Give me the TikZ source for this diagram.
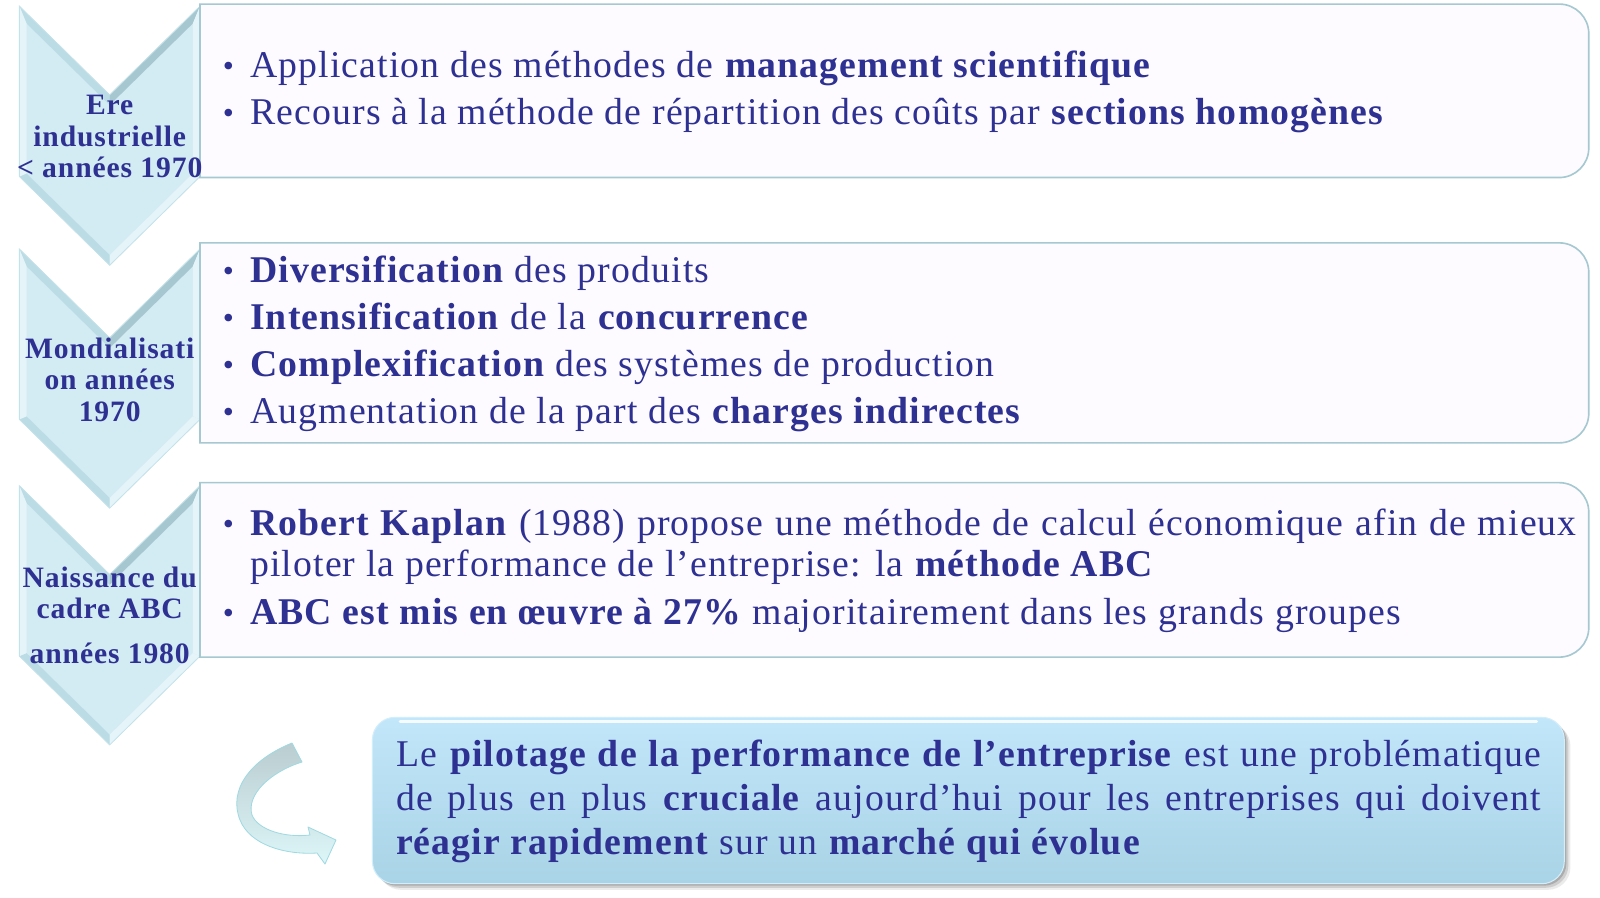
\documentclass[tikz,border=0pt]{standalone}
\usepackage{fontspec}
\setmainfont{Liberation Serif}[LetterSpace=3]
\definecolor{tblue}{HTML}{2E3192}
\definecolor{chface}{HTML}{D3EBF3}
\definecolor{chlight}{HTML}{E4F4F8}
\definecolor{chmid}{HTML}{BCDCE5}
\definecolor{chdark}{HTML}{A7C7D0}
\definecolor{choutline}{HTML}{C4E2EA}
\definecolor{boxline}{HTML}{A6C9D1}
\definecolor{boxfill}{HTML}{FDFBFF}
\definecolor{conctop}{HTML}{C2E6FA}
\definecolor{concbot}{HTML}{A9D3E6}
\definecolor{concline}{HTML}{D2EEFB}
\definecolor{arrtop}{HTML}{BACDD1}
\definecolor{arrbot}{HTML}{DDF6F8}
\definecolor{arrline}{HTML}{9FD9E2}
\newcommand\bigtxt{\fontsize{37}{46}\selectfont}
\newcommand\bul{\llap{\raisebox{1pt}{\fontsize{31}{31}\selectfont\textbullet}\hspace{16pt}}}
\newcommand\chevronshape[1]{%
\begin{scope}[shift={(0,#1)}]
\fill[chface] (19,6) -- (107.5,93) -- (196,6) -- (196,173) -- (107.5,260) -- (19,173) -- cycle;
\fill[chmid] (19,6) -- (107.5,93) -- (107.5,103) -- (26,23) -- cycle;
\fill[chdark] (107.5,93) -- (196,6) -- (189,23) -- (107.5,103) -- cycle;
\fill[chlight] (196,6) -- (196,173) -- (189,170) -- (189,23) -- cycle;
\fill[chlight] (196,173) -- (107.5,260) -- (107.5,250) -- (189,170) -- cycle;
\fill[chmid] (107.5,260) -- (19,173) -- (26,170) -- (107.5,250) -- cycle;
\fill[chlight] (19,173) -- (19,6) -- (26,23) -- (26,170) -- cycle;
\draw[choutline, line width=0.8pt, line join=miter] (19,6) -- (107.5,93) -- (196,6) -- (196,173) -- (107.5,260) -- (19,173) -- cycle;
\end{scope}}
\newcommand\rightroundbox[4]{%
\filldraw[fill=boxfill, draw=boxline, line width=1.6pt] (#1,#2) -- (#3-29,#2) .. controls (#3-13,#2) and (#3,#2+13) .. (#3,#2+29) -- (#3,#4-29) .. controls (#3,#4-13) and (#3-13,#4) .. (#3-29,#4) -- (#1,#4) -- cycle;}
\begin{document}
\begin{tikzpicture}[x=1pt,y=-1pt,
  itm/.style={anchor=base west, inner sep=0pt, text=tblue, font=\bigtxt},
  chlab/.style={inner sep=0pt, text=tblue, align=center, font=\bfseries\fontsize{29}{31}\selectfont},
  concl/.style={minimum width=1168pt, minimum height=163pt, rounded corners=22pt, top color=conctop, bottom color=concbot, draw=concline, line width=1pt, inner sep=0pt}]
\useasboundingbox (0,0) rectangle (1568,880);
\fill[white] (0,0) rectangle (1568,880);
% chevrons
\chevronshape{0}
\chevronshape{238}
\chevronshape{470}
% boxes
\rightroundbox{196}{4}{1557}{174}
\rightroundbox{196}{238}{1557}{434}
\rightroundbox{196}{473}{1557}{644}
% chevron labels
\node[chlab] (c1) at (107.5,134) {Ere\\industrielle\\< années 1970};
\node[chlab] (c2) at (107.5,372) {Mondialisati\\on années\\1970};
\node[chlab] (c3) at (107.5,603) {Naissance du\\cadre ABC\\[13pt]années 1980};
% box 1
\node[itm] (t11) at (245,76) {\bul Application des méthodes de \textbf{management scientifique}};
\node[itm] (t12) at (245,122) {\bul Recours à la méthode de répartition des coûts par \textbf{sections homogènes}};
% box 2
\node[itm] (t21) at (245,277) {\bul \textbf{Diversification} des produits};
\node[itm] (t22) at (245,323) {\bul \textbf{Intensification} de la \textbf{concurrence}};
\node[itm] (t23) at (245,369) {\bul \textbf{Complexification} des systèmes de production};
\node[itm] (t24) at (245,415) {\bul Augmentation de la part des \textbf{charges indirectes}};
% box 3
\node[itm] (t31) at (245,525) {\bul\makebox[1300pt][s]{\textbf{Robert Kaplan} (1988) propose une méthode de calcul économique afin de mieux}};
\node[itm] (t32) at (245,565) {piloter la performance de l’entreprise: la \textbf{méthode ABC}};
\node[itm] (t33) at (245,612) {\bul \textbf{ABC est mis en œuvre à 27\%} majoritairement dans les grands groupes};
% curved arrow
\begin{scope}[scale=0.98]
\shadedraw[top color=arrtop, bottom color=arrbot, draw=arrline, line width=0.8pt, line join=round]
  (292,743) .. controls (250,760) and (228,790) .. (240,820)
  .. controls (250,845) and (285,855) .. (317,853)
  -- (325,864) -- (336,840) -- (308,827) -- (310,835)
  .. controls (285,838) and (258,830) .. (252,815)
  .. controls (246,795) and (270,772) .. (302,762) -- cycle;
\end{scope}
% conclusion box
\foreach \o/\a in {6/0.08,4/0.12,2/0.16}
  \fill[black, opacity=\a, rounded corners=22pt] (365+\o,703+\o) rectangle (1533+\o,866+\o);
\node[concl] (concl) at (949,784.5) {};
\draw[white, opacity=0.85, line width=2.5pt, line cap=round] (392,707) -- (1506,707);
\node[itm] (l1) at (388,751) {\makebox[1122pt][s]{Le \textbf{pilotage de la performance de l’entreprise} est une problématique}};
\node[itm] (l2) at (388,794) {\makebox[1122pt][s]{de plus en plus \textbf{cruciale} aujourd’hui pour les entreprises qui doivent}};
\node[itm] (l3) at (388,837) {\textbf{réagir rapidement} sur un \textbf{marché qui évolue}};
\end{tikzpicture}
\end{document}
